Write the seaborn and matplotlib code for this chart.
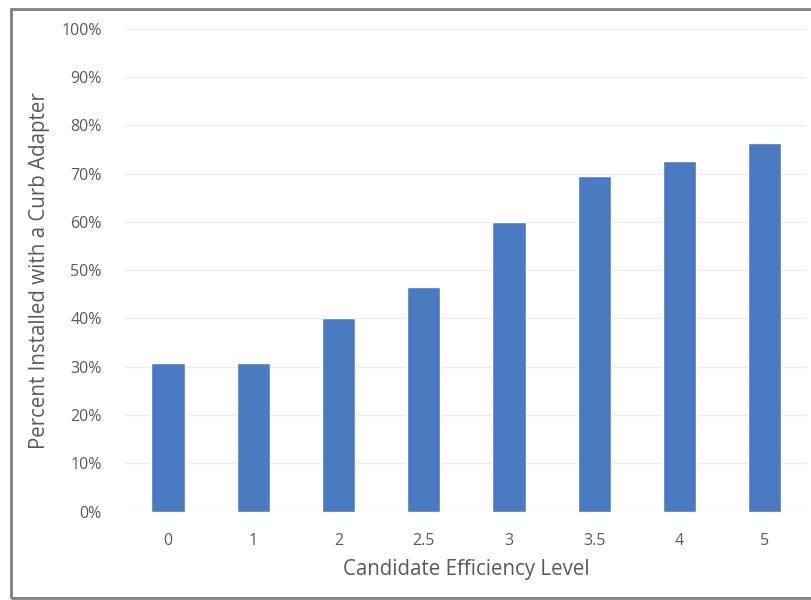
import matplotlib
matplotlib.use("Agg")
import matplotlib.pyplot as plt
import seaborn as sns
import pandas as pd
from matplotlib.patches import Rectangle
from matplotlib.ticker import PercentFormatter

levels = ["0", "1", "2", "2.5", "3", "3.5", "4", "5"]
percent_installed = [30.7, 30.7, 40.1, 46.5, 60.0, 69.5, 72.6, 76.4]

df = pd.DataFrame({"level": levels, "pct": percent_installed})

sns.set_theme(style="white")
plt.rcParams["font.family"] = ["Open Sans", "DejaVu Sans"]

fig = plt.figure(figsize=(8.12, 6.0), dpi=100)
ax = fig.add_axes([125.4 / 812, 1 - 511.7 / 600, 682 / 812, 483 / 600])

sns.barplot(data=df, x="level", y="pct", order=levels, color="#4A7BC0",
            saturation=1, width=0.39, ax=ax, zorder=3)

ax.set_ylim(0, 100)
ax.set_xlim(-0.5, len(levels) - 0.5)
ax.set_yticks(range(0, 101, 10))
ax.yaxis.set_major_formatter(PercentFormatter(decimals=0))
ax.grid(axis="y", color="#ececec", linewidth=1, zorder=0)
for s in ax.spines.values():
    s.set_visible(False)
ax.tick_params(axis="y", length=0, pad=17, labelsize=11.5, labelcolor="#595959")
ax.tick_params(axis="x", length=0, pad=15, labelsize=11.5, labelcolor="#595959")
ax.set_xlabel("Candidate Efficiency Level", fontsize=14.8, color="#595959")
ax.set_ylabel("Percent Installed with a Curb Adapter", fontsize=14.8, color="#595959")
ax.xaxis.set_label_coords(0.5, -(570 - 511.7) / 483, transform=ax.transAxes)
ax.yaxis.set_label_coords(-(125.4 - 40) / 682, 0.5, transform=ax.transAxes)
ax.xaxis.label.set_va("center")
ax.yaxis.label.set_va("center")

# outer chart border (cropped on the right)
fig.patches.append(Rectangle((11 / 812, 1 - 598 / 600), 1.0, (598 - 9) / 600,
                             transform=fig.transFigure, fill=False,
                             edgecolor="#7f7f7f", linewidth=2))

fig.savefig("out.png", dpi=100)
